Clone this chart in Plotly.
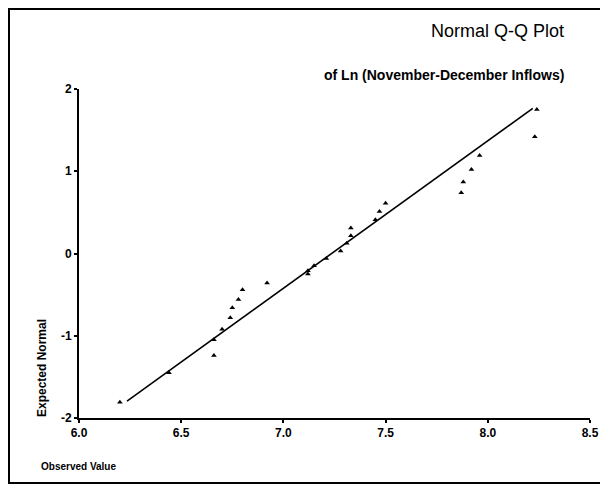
import plotly.graph_objects as go

observed = [6.20, 6.44, 6.66, 6.66, 6.70, 6.74, 6.75, 6.78, 6.80, 6.92,
            7.12, 7.12, 7.15, 7.21, 7.28, 7.31, 7.33, 7.33, 7.45, 7.47,
            7.50, 7.87, 7.88, 7.92, 7.96, 8.23, 8.24]
expected = [-1.81, -1.45, -1.24, -1.05, -0.92, -0.78, -0.66, -0.56, -0.44, -0.36,
            -0.25, -0.21, -0.15, -0.06, 0.03, 0.125, 0.215, 0.31, 0.41, 0.51,
            0.61, 0.74, 0.87, 1.02, 1.19, 1.42, 1.75]
line_x = [6.235, 8.22]
line_y = [-1.795, 1.765]
x_ticks = [6.0, 6.5, 7.0, 7.5, 8.0, 8.5]
x_tick_labels = ["6.0", "6.5", "7.0", "7.5", "8.0", "8.5"]
y_ticks = [-2, -1, 0, 1, 2]
y_tick_labels = ["-2", "-1", "0", "1", "2"]

FONT = "Liberation Sans, Arial, sans-serif"

# page body has an 8px margin; figure is sized so it fits the 608x486 window
W, H = 600, 478
OFF = 8
PW, PH = 511, 329


def px(xp):
    return (xp - 79) / PW


def py(yp):
    return (418 - yp) / PH


fig = go.Figure()
fig.add_trace(go.Scatter(x=line_x, y=line_y, mode="lines",
                         line=dict(color="black", width=1.6), hoverinfo="skip"))
fig.add_trace(go.Scatter(x=observed, y=expected, mode="markers",
                         marker=dict(symbol="triangle-up", size=5, color="black")))

fig.update_layout(
    width=W, height=H,
    margin=dict(l=79 - OFF, r=W - (590 - OFF), t=89 - OFF, b=H - (418 - OFF),
                autoexpand=False),
    paper_bgcolor="white", plot_bgcolor="white",
    showlegend=False,
    font=dict(family=FONT, color="black"),
    xaxis=dict(range=[6.0, 8.5], tickvals=x_ticks, ticktext=x_tick_labels,
               showgrid=False, zeroline=False, showline=True, linecolor="black",
               linewidth=2, ticks="outside", ticklen=3, tickwidth=2, tickcolor="black",
               tickfont=dict(family=FONT, size=12, color="black", weight="bold")),
    yaxis=dict(range=[-2, 2], tickvals=y_ticks, ticktext=y_tick_labels,
               showgrid=False, zeroline=False, showline=True, linecolor="black",
               linewidth=2, ticks="outside", ticklen=3, tickwidth=2, tickcolor="black",
               tickfont=dict(family=FONT, size=12, color="black", weight="bold")),
    shapes=[dict(type="rect", xref="paper", yref="paper",
                 x0=px(9), x1=px(603), y0=py(483), y1=py(9),
                 line=dict(color="black", width=2), fillcolor="rgba(0,0,0,0)")],
    annotations=[
        dict(text="Normal Q-Q Plot", xref="paper", yref="paper",
             x=px(566), y=py(31), xanchor="right", yanchor="middle",
             showarrow=False, font=dict(family=FONT, size=18, color="black")),
        dict(text="of Ln (November-December Inflows)", xref="paper", yref="paper",
             x=px(566), y=py(75), xanchor="right", yanchor="middle",
             showarrow=False, font=dict(family=FONT, size=14, color="black", weight="bold")),
        dict(text="Expected Normal", xref="paper", yref="paper",
             x=px(42), y=py(368), xanchor="center", yanchor="middle",
             textangle=-90, showarrow=False,
             font=dict(family=FONT, size=12, color="black", weight="bold")),
        dict(text="Observed Value", xref="paper", yref="paper",
             x=px(39), y=py(466), xanchor="left", yanchor="middle",
             showarrow=False, font=dict(family=FONT, size=10, color="black", weight="bold")),
    ],
)

fig.write_html("out.html")
